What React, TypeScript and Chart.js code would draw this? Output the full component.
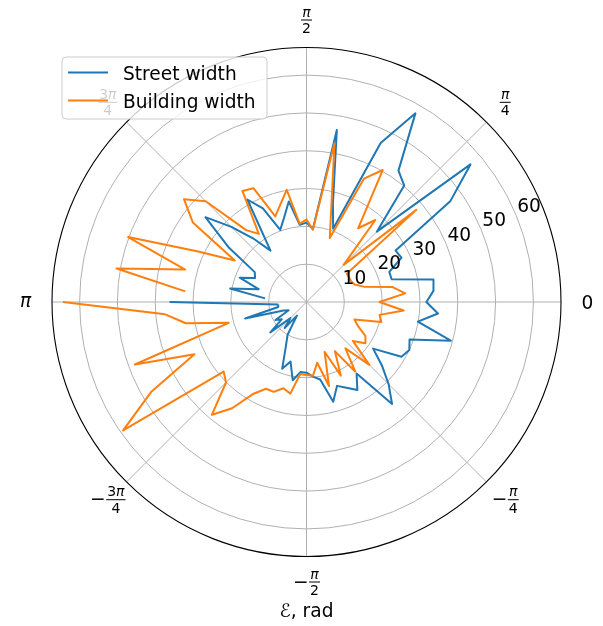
import React, { useEffect, useRef } from 'react';
import { Chart, registerables } from 'chart.js';

Chart.register(...registerables);

// ---------------- data ----------------
const angleDeg = [
  -180, -175, -170, -165, -160, -155, -150, -145, -140, -135, -130, -125, -120, -115, -110, -105, -100, -95,
  -90, -85, -80, -75, -70, -65, -60, -55, -50, -45, -40, -35, -30, -25, -20, -15, -10, -5,
  0, 5, 10, 15, 20, 25, 30, 35, 40, 45, 50, 55, 60, 65, 70, 75, 80, 85,
  90, 95, 100, 105, 110, 115, 120, 125, 130, 135, 140, 145, 150, 155, 160, 165, 170, 175,
];

const streetWidth = [
  36.2, 7.5, 7.6, 16.8, 6.5, 5.2, 9.5, 8.0, 12.5, 6.0, 9.0, 4.4, 10.0, 12.9, 18.8, 16.3, 21.0, 18.6,
  18.7, 19.8, 20.8, 27.3, 23.6, 25.0, 26.9, 23.1, 35.2, 30.7, 26.0, 21.5, 29.0, 30.0, 29.0, 39.5, 29.9, 34.9,
  31.7, 33.7, 34.1, 23.3, 23.3, 27.7, 27.2, 46.4, 56.6, 26.3, 40.2, 42.4, 57.6, 46.4, 20.6, 27.0, 46.2, 19.4,
  21.0, 20.5, 27.0, 23.0, 20.3, 27.3, 31.3, 16.6, 22.0, 28.1, 34.9, 25.0, 15.8, 15.0, 18.8, 13.1, 20.5, 11.0,
];

const buildingWidth = [
  64.4, 37.5, 32.4, 21.3, 48.3, 32.7, 47.3, 59.2, 28.6, 30.1, 38.9, 34.3, 28.0, 25.3, 25.3, 23.6, 24.6, 19.1,
  19.3, 19.6, 16.3, 23.0, 14.0, 21.5, 15.0, 22.5, 16.0, 23.5, 16.0, 19.0, 18.0, 15.0, 13.5, 20.5, 19.6, 25.8,
  19.3, 26.2, 23.0, 15.7, 13.5, 13.0, 13.0, 13.0, 37.9, 13.9, 28.3, 23.8, 40.3, 36.0, 18.0, 25.2, 42.6, 19.2,
  21.8, 20.8, 30.1, 26.7, 24.1, 33.2, 33.9, 22.0, 24.8, 37.7, 42.3, 36.7, 21.9, 31.6, 50.2, 33.2, 51.0, 32.2,
];

const seriesNames = ['Street width', 'Building width'];
const seriesColors = ['#1f77b4', '#ff7f0e'];

const rMax = 67.3;
const rTickValues = [10, 20, 30, 40, 50, 60];
const rLabelAngle = 22.5;

// theta tick labels: angle (deg), minus sign, numerator, denominator ('' = plain text)
const thetaTickDeg = [0, 45, 90, 135, 180, -135, -90, -45];
const thetaTickMinus = [false, false, false, false, false, true, true, true];
const thetaTickNum = ['0', 'π', 'π', '3π', 'π', '3π', 'π', 'π'];
const thetaTickDen = ['', '4', '2', '4', '', '4', '2', '4'];

const xLabel = 'ℰ, rad';

// ---------------- layout constants ----------------
const W = 603;
const H = 626;
const CX = 306.5;
const CY = 302;
const RADIUS = 254.5;
const FONT = "'DejaVu Sans', sans-serif";
const FS = 18.6;
const FRAC_FS = 14;

// radar index i sits at angle -i*step (clockwise from the right)
const N = angleDeg.length;
const step = 360 / N;
const norm = (a: number) => {
  let v = ((a % 360) + 360) % 360;
  if (v >= 180) v -= 360;
  return Math.round(v * 1000) / 1000;
};
const radarAngle = Array.from({ length: N }, (_, i) => norm(-i * step));
const radarSource = radarAngle.map((a) => angleDeg.findIndex((d) => norm(d) === a));

function mainSeries(values: number[]) {
  // matplotlib line is open between the last and the first angle
  return radarSource.map((k) => (k === 0 ? null : values[k]));
}
function tailSeries(values: number[]) {
  return radarSource.map((k) => (k === 0 || k === 1 ? values[k] : null));
}

function runWidth(ctx: CanvasRenderingContext2D, s: string, size: number) {
  let w = 0;
  for (const ch of s) {
    ctx.font = (ch === 'π' ? 'italic ' : '') + size + 'px ' + FONT;
    w += ctx.measureText(ch).width;
  }
  return w;
}
function drawRun(ctx: CanvasRenderingContext2D, s: string, size: number, left: number, baseline: number) {
  let x = left;
  ctx.textAlign = 'left';
  ctx.textBaseline = 'alphabetic';
  for (const ch of s) {
    ctx.font = (ch === 'π' ? 'italic ' : '') + size + 'px ' + FONT;
    ctx.fillText(ch, x, baseline);
    x += ctx.measureText(ch).width;
  }
}

const polarPlugin = {
  id: 'polarDecor',
  afterLayout(chart: any) {
    const s = chart.scales.r;
    s.xCenter = CX;
    s.yCenter = CY;
    s.drawingArea = RADIUS;
  },
  beforeDatasetsDraw(chart: any) {
    const ctx: CanvasRenderingContext2D = chart.ctx;
    const s = chart.scales.r;
    const d = s.getDistanceFromCenterForValue(s.max);
    ctx.save();
    ctx.strokeStyle = '#000000';
    ctx.lineWidth = 1.1;
    ctx.beginPath();
    ctx.arc(s.xCenter, s.yCenter, d, 0, Math.PI * 2);
    ctx.stroke();
    ctx.restore();
  },
  afterDatasetsDraw(chart: any) {
    const ctx: CanvasRenderingContext2D = chart.ctx;
    const s = chart.scales.r;
    ctx.save();
    ctx.fillStyle = '#000000';

    // radial tick labels
    const ra = (rLabelAngle * Math.PI) / 180;
    rTickValues.forEach((v) => {
      const d = s.getDistanceFromCenterForValue(v);
      const x = s.xCenter + d * Math.cos(ra) + 13;
      const y = s.yCenter - d * Math.sin(ra) - 10.3;
      ctx.font = FS + 'px ' + FONT;
      ctx.textAlign = 'center';
      ctx.textBaseline = 'alphabetic';
      ctx.fillText(String(v), x, y + 6.7);
    });

    // angular tick labels
    const labelDist = s.getDistanceFromCenterForValue(s.max) + 26.5;
    thetaTickDeg.forEach((deg, i) => {
      const a = (deg * Math.PI) / 180;
      const cx = s.xCenter + labelDist * Math.cos(a);
      const cy = s.yCenter - labelDist * Math.sin(a);
      const num = thetaTickNum[i];
      const den = thetaTickDen[i];
      if (!den) {
        const w = runWidth(ctx, num, FS);
        const base = num === 'π' ? cy + 5 : cy + 6.7;
        drawRun(ctx, num, FS, cx - w / 2, base);
        return;
      }
      ctx.font = FS + 'px ' + FONT;
      const minusW = thetaTickMinus[i] ? ctx.measureText('−').width : 0;
      const gap = thetaTickMinus[i] ? 0.5 : 0;
      const wn = runWidth(ctx, num, FRAC_FS);
      const wd = runWidth(ctx, den, FRAC_FS);
      const barW = Math.max(wn, wd) + 2;
      const total = minusW + gap + barW;
      const left = cx - total / 2;
      const lineY = cy - 1;
      if (thetaTickMinus[i]) {
        ctx.font = FS + 'px ' + FONT;
        ctx.textAlign = 'left';
        ctx.textBaseline = 'alphabetic';
        ctx.fillText('−', left, lineY + 5.8);
      }
      const fx = left + minusW + gap;
      ctx.fillRect(fx, lineY - 0.5, barW, 1);
      drawRun(ctx, num, FRAC_FS, fx + (barW - wn) / 2, lineY - 3.5);
      drawRun(ctx, den, FRAC_FS, fx + (barW - wd) / 2, lineY + 13);
    });

    // axis label
    ctx.font = FS + 'px ' + FONT;
    ctx.textAlign = 'center';
    ctx.textBaseline = 'alphabetic';
    ctx.fillText(xLabel, 306.5, 617);

    // legend
    const bx = 62, by = 57, bw = 205, bh = 62, rr = 4;
    ctx.beginPath();
    ctx.moveTo(bx + rr, by);
    ctx.lineTo(bx + bw - rr, by);
    ctx.quadraticCurveTo(bx + bw, by, bx + bw, by + rr);
    ctx.lineTo(bx + bw, by + bh - rr);
    ctx.quadraticCurveTo(bx + bw, by + bh, bx + bw - rr, by + bh);
    ctx.lineTo(bx + rr, by + bh);
    ctx.quadraticCurveTo(bx, by + bh, bx, by + bh - rr);
    ctx.lineTo(bx, by + rr);
    ctx.quadraticCurveTo(bx, by, bx + rr, by);
    ctx.closePath();
    ctx.fillStyle = 'rgba(255,255,255,0.8)';
    ctx.fill();
    ctx.strokeStyle = '#cccccc';
    ctx.lineWidth = 1;
    ctx.stroke();

    const rowY = [72.5, 100.5];
    seriesNames.forEach((name, i) => {
      ctx.strokeStyle = seriesColors[i];
      ctx.lineWidth = 2;
      ctx.beginPath();
      ctx.moveTo(68, rowY[i]);
      ctx.lineTo(108, rowY[i]);
      ctx.stroke();
      ctx.fillStyle = '#000000';
      ctx.font = FS + 'px ' + FONT;
      ctx.textAlign = 'left';
      ctx.textBaseline = 'alphabetic';
      ctx.fillText(name, 123, rowY[i] + 7.5);
    });
    ctx.restore();
  },
};

export default function App() {
  const ref = useRef<HTMLCanvasElement>(null);
  useEffect(() => {
    const canvas = ref.current;
    if (!canvas) return;
    const lineOpts = {
      pointRadius: 0,
      borderWidth: 2,
      fill: false,
      tension: 0,
      spanGaps: false,
      borderJoinStyle: 'round' as const,
    };
    const chart = new Chart(canvas, {
      type: 'radar',
      data: {
        labels: radarAngle.map((a) => String(a)),
        datasets: [
          { label: seriesNames[1], data: mainSeries(buildingWidth), borderColor: seriesColors[1], backgroundColor: seriesColors[1], ...lineOpts },
          { label: seriesNames[1] + ' ', data: tailSeries(buildingWidth), borderColor: seriesColors[1], backgroundColor: seriesColors[1], ...lineOpts },
          { label: seriesNames[0], data: mainSeries(streetWidth), borderColor: seriesColors[0], backgroundColor: seriesColors[0], ...lineOpts },
          { label: seriesNames[0] + ' ', data: tailSeries(streetWidth), borderColor: seriesColors[0], backgroundColor: seriesColors[0], ...lineOpts },
        ],
      },
      options: {
        responsive: false,
        animation: false,
        devicePixelRatio: 1,
        events: [],
        plugins: { legend: { display: false }, tooltip: { enabled: false } },
        scales: {
          r: {
            min: 0,
            max: rMax,
            bounds: 'data',
            startAngle: 90,
            ticks: { display: false, stepSize: 10, includeBounds: false },
            pointLabels: { display: false },
            grid: { circular: true, color: '#b0b0b0', lineWidth: 1 },
            angleLines: {
              display: true,
              color: '#b0b0b0',
              lineWidth: (c: any) => (radarAngle[c.index] % 45 === 0 ? 1 : 0),
            },
          } as any,
        },
      },
      plugins: [polarPlugin],
    });
    return () => chart.destroy();
  }, []);
  return (
    <div style={{ position: 'absolute', left: 0, top: 0, width: W, height: H, background: '#ffffff' }}>
      <canvas ref={ref} width={W} height={H} style={{ width: W, height: H, display: 'block' }} />
    </div>
  );
}
